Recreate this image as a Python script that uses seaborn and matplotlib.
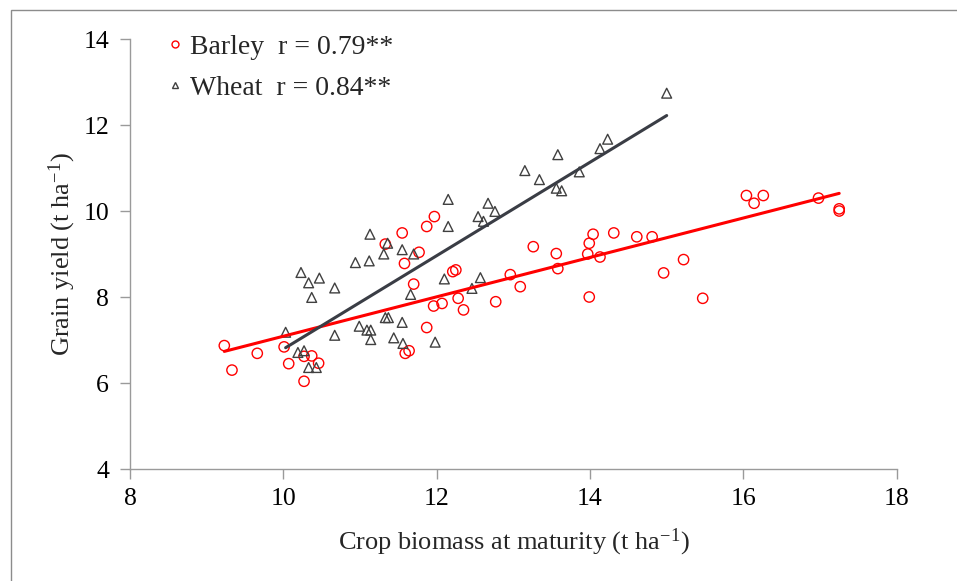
import numpy as np
import matplotlib
matplotlib.use("Agg")
import matplotlib.pyplot as plt
import seaborn as sns
from matplotlib.lines import Line2D
from matplotlib.patches import Rectangle

# Barley: biomass (x) and grain yield (y), t/ha
barley_x = [9.23, 9.33, 9.66, 10.01, 10.07, 10.27, 10.37, 10.46, 10.27, 11.55,
            11.33, 11.77, 11.58, 11.70, 11.96, 12.07, 11.87, 11.59, 11.64, 12.21,
            12.25, 12.28, 11.87, 11.97, 13.26, 13.56, 13.58, 13.97, 13.99, 14.04,
            14.13, 14.31, 14.61, 14.81, 14.96, 15.22, 13.99, 12.96, 13.09, 12.77,
            12.35, 15.47, 16.04, 16.14, 16.26, 16.98, 17.25, 17.25]
barley_y = [6.87, 6.30, 6.69, 6.84, 6.45, 6.62, 6.63, 6.46, 6.04, 9.49,
            9.23, 9.04, 8.78, 8.30, 7.79, 7.85, 7.29, 6.69, 6.75, 8.59,
            8.63, 7.97, 9.64, 9.87, 9.17, 9.01, 8.66, 9.00, 9.25, 9.46,
            8.93, 9.49, 9.40, 9.40, 8.56, 8.87, 8.00, 8.52, 8.24, 7.89,
            7.70, 7.97, 10.36, 10.18, 10.36, 10.30, 10.05, 10.00]

# Wheat
wheat_x = [11.13, 11.36, 11.55, 11.31, 11.70, 12.15, 10.94, 11.12, 10.23, 10.33,
           10.47, 10.67, 10.37, 12.10, 11.66, 10.03, 10.67, 10.99, 11.09, 11.14,
           11.14, 11.33, 11.37, 11.55, 11.44, 11.56, 11.98, 10.19, 10.27, 10.33,
           10.43, 12.15, 12.67, 12.76, 12.54, 12.61, 13.15, 13.34, 13.58, 13.56,
           13.63, 13.86, 14.13, 14.23, 12.57, 12.46, 15.00]
wheat_y = [9.46, 9.25, 9.10, 9.00, 9.00, 9.64, 8.80, 8.84, 8.57, 8.33,
           8.44, 8.21, 7.99, 8.42, 8.06, 7.18, 7.11, 7.32, 7.23, 7.23,
           7.01, 7.52, 7.52, 7.41, 7.05, 6.92, 6.95, 6.71, 6.75, 6.36,
           6.36, 10.27, 10.18, 9.99, 9.87, 9.76, 10.94, 10.73, 11.31, 10.53,
           10.47, 10.91, 11.45, 11.67, 8.45, 8.20, 12.74]

labels = ["Barley  r = 0.79**", "Wheat  r = 0.84**"]

sns.set_style("white")
plt.rcParams["font.family"] = ["Liberation Serif", "DejaVu Serif"]
plt.rcParams["mathtext.default"] = "regular"

fig = plt.figure(figsize=(9.57, 5.81), dpi=100)
ax = fig.add_axes([130 / 957, 1 - 469 / 581, 766.7 / 957, 430 / 581])

red = "#FF0000"
dark = "#3A3D45"

sns.regplot(x=barley_x, y=barley_y, ax=ax, ci=None, marker="o", truncate=True,
            scatter_kws=dict(facecolors="none", edgecolors=red, s=55,
                             linewidths=1.0, alpha=1),
            line_kws=dict(color=red, lw=2.2))
sns.regplot(x=wheat_x, y=wheat_y, ax=ax, ci=None, marker="^", truncate=True,
            scatter_kws=dict(facecolors="none", edgecolors="#404040", s=50,
                             linewidths=1.0, alpha=1),
            line_kws=dict(color=dark, lw=2.2))

ax.set_xlim(8, 18)
ax.set_ylim(4, 14)
ax.set_xticks(np.arange(8, 19, 2))
ax.set_yticks(np.arange(4, 15, 2))

for side in ["top", "right"]:
    ax.spines[side].set_visible(False)
for side in ["left", "bottom"]:
    ax.spines[side].set_color("#9A9A9A")
    ax.spines[side].set_linewidth(1.0)

ax.tick_params(axis="both", direction="out", length=7, width=1,
               color="#9A9A9A", labelsize=18.5, labelcolor="black",
               bottom=True, left=True)
ax.tick_params(axis="x", pad=7)
ax.tick_params(axis="y", pad=8)

ax.set_xlabel("Crop biomass at maturity (t ha$^{-1}$)", fontsize=19, labelpad=12)
ax.set_ylabel("Grain yield (t ha$^{-1}$)", fontsize=19, labelpad=4)

handles = [
    Line2D([], [], marker="o", ls="none", mfc="none", mec=red, ms=5, mew=1),
    Line2D([], [], marker="^", ls="none", mfc="none", mec="#404040", ms=5, mew=1),
]
ax.legend(handles, labels, loc="upper left", bbox_to_anchor=(0.015, 1.068),
          frameon=False, fontsize=20, handlelength=0.6, handletextpad=0.25,
          labelspacing=0.55)

# outer chart frame
fig.patches.append(Rectangle((11 / 957, -0.2), 1.5, 1.2 - 10 / 581,
                             transform=fig.transFigure, fill=False,
                             edgecolor="#8C8C8C", lw=1.0))

fig.savefig("out.png", dpi=100)
